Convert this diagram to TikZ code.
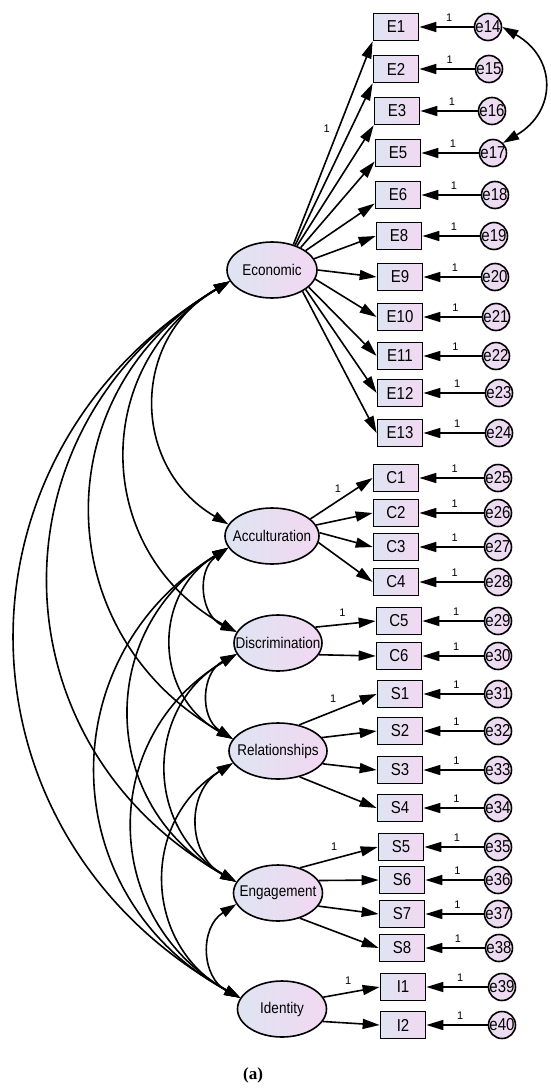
\documentclass[tikz,border=0pt]{standalone}
\usepackage{fontspec}
\setmainfont{Liberation Sans}
\newfontfamily\capfont{Liberation Serif}
\usetikzlibrary{arrows.meta,shapes.geometric}

\definecolor{fillL}{RGB}{222,228,242}
\definecolor{fillR}{RGB}{242,216,242}

\newcommand{\lvtext}[1]{\makebox[0pt]{\scalebox{1}[1.15]{#1}}}

\tikzset{
  latent/.style={ellipse, draw, line width=1.6pt, left color=fillL, right color=fillR,
    minimum width=#1, minimum height=56pt, inner sep=0pt, font=\fontsize{13.5}{16}\selectfont},
  obs/.style={rectangle, draw, line width=1.7pt, left color=fillL, right color=fillR,
    minimum width=45pt, minimum height=27pt, inner sep=0pt, font=\fontsize{15}{17}\selectfont},
  err/.style={circle, draw, line width=1.6pt, left color=fillL!50!fillR, right color=fillR,
    minimum size=27pt, inner sep=0pt, font=\fontsize{15}{17}\selectfont},
  load/.style={line width=1.6pt, -{Triangle[length=17pt,width=10pt]}},
  cov/.style={line width=1.6pt, {Triangle[length=16pt,width=10pt]}-{Triangle[length=16pt,width=10pt]},
    bend right=60, looseness=1.2},
  lbl/.style={inner sep=0pt, font=\fontsize{11}{13}\selectfont},
  one/.style={lbl, pos=0.45, above=5pt}
}

\begin{document}
\begin{tikzpicture}[x=1pt, y=-1pt]
  \useasboundingbox (0,0) rectangle (550,1092);

  % latent factors
  \node[latent=90pt] (econ) at (272,270) {\lvtext{Economic}};
  \node[latent=94pt] (accu) at (272,536) {\lvtext{Acculturation}};
  \node[latent=88pt] (disc) at (278,643) {\lvtext{Discrimination}};
  \node[latent=98pt] (rela) at (278,751) {\lvtext{Relationships}};
  \node[latent=89pt] (enga) at (278,893) {\lvtext{Engagement}};
  \node[latent=89pt] (iden) at (282,1009) {\lvtext{Identity}};

  % items with their error terms
  \foreach \bx/\by/\bl/\ex/\el in {
      396/27/E1/488/e14, 396/69/E2/489/e15, 397/111/E3/492/e16,
      398/153/E5/493/e17, 398/195/E6/495/e18, 399/236/E8/494/e19,
      400/277/E9/495/e20, 400/317/E10/496/e21, 400/356/E11/496/e22,
      400/393/E12/499/e23, 400/433/E13/499/e24,
      396/478/C1/498/e25, 396/513/C2/498/e26, 396/547/C3/498/e27,
      396/582/C4/498/e28, 399/621/C5/498/e29, 399/656/C6/498/e30,
      400/694/S1/498/e31, 400/731/S2/498/e32, 400/770/S3/498/e33,
      400/808/S4/498/e34, 401/847/S5/498/e35, 402/880/S6/498/e36,
      402/914/S7/498/e37, 402/948/S8/499/e38,
      403/987/I1/502/e39, 403/1025/I2/502/e40} {
    \node[obs] (\bl) at (\bx,\by) {\lvtext{\bl}};
    \node[err] (\el) at (\ex,\by) {\lvtext{\el}};
    \draw[load] (\el) -- node[one] {1} (\bl);
  }

  % loadings
  \draw[load] (econ.50) -- node[lbl, pos=0.57, left=8pt] {1} (E1.south west);
  \draw[load] (econ.47) -- (E2.south west);
  \draw[load] (econ.44) -- (E3.south west);
  \draw[load] (econ.38) -- (E5.200);
  \draw[load] (econ.30) -- (E6.200);
  \draw[load] (econ.15) -- (E8.west);
  \draw[load] (econ.0) -- (E9.west);
  \draw[load] (econ.-12) -- (E10.west);
  \draw[load] (econ.-25) -- (E11.west);
  \draw[load] (econ.-30) -- (E12.west);
  \draw[load] (econ.-35) -- (E13.west);

  \draw[load] (accu.24) -- node[lbl, pos=0.44, above=8pt] {1} (C1.west);
  \draw[load] (accu.14) -- (C2.west);
  \draw[load] (accu.4) -- (C3.west);
  \draw[load] (accu.-8) -- (C4.west);

  \draw[load] (disc.23) -- node[lbl, pos=0.45, above=7pt] {1} (C5.west);
  \draw[load] (disc.-16) -- (C6.west);

  \draw[load] (rela.51) -- node[lbl, pos=0.44, above=8pt] {1} (S1.west);
  \draw[load] (rela.17) -- (S2.west);
  \draw[load] (rela.-16) -- (S3.west);
  \draw[load] (rela.-50) -- (S4.west);

  \draw[load] (enga.49) -- node[lbl, pos=0.44, above=7pt] {1} (S5.west);
  \draw[load] (enga.17) -- (S6.west);
  \draw[load] (enga.-18) -- (S7.west);
  \draw[load] (enga.-49) -- (S8.west);

  \draw[load] (iden.16) -- node[lbl, pos=0.44, above=7pt] {1} (I1.west);
  \draw[load] (iden.-17) -- (I2.west);

  % factor covariances
  \draw[cov] (econ.195) to (accu.165);
  \draw[cov] (econ.195) to (disc.165);
  \draw[cov] (econ.195) to (rela.165);
  \draw[cov] (econ.195) to (enga.165);
  \draw[cov] (econ.195) to (iden.165);
  \draw[cov] (accu.195) to (disc.165);
  \draw[cov] (accu.195) to (rela.165);
  \draw[cov] (accu.195) to (enga.165);
  \draw[cov] (accu.195) to (iden.165);
  \draw[cov] (disc.195) to (rela.165);
  \draw[cov] (disc.195) to (enga.165);
  \draw[cov] (disc.195) to (iden.165);
  \draw[cov] (rela.195) to (enga.165);
  \draw[cov] (rela.195) to (iden.165);
  \draw[cov] (enga.195) to (iden.165);

  % error covariance
  \draw[cov, bend left=60, looseness=1.38] (e14.east) to (e17.45);

  \node[font=\capfont\bfseries\fontsize{17}{19}\selectfont] (cap) at (253,1075) {(a)};
\end{tikzpicture}
\end{document}
